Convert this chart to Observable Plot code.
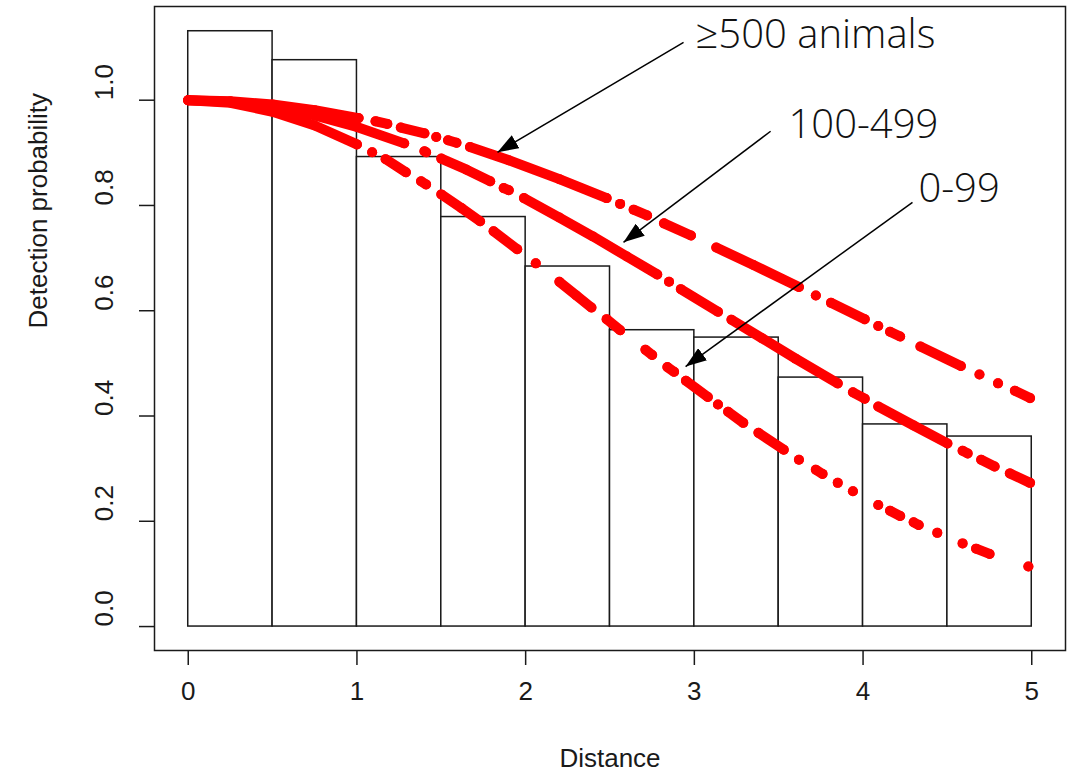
<!DOCTYPE html>
<html>
<head>
<meta charset="utf-8">
<script src="https://cdn.jsdelivr.net/npm/d3@7"></script>
<script src="https://cdn.jsdelivr.net/npm/@observablehq/plot@0.6"></script>
<style>
  html, body { margin: 0; padding: 0; background: #fff; }
  #chart svg { display: block; }
</style>
</head>
<body>
<div id="chart"></div>
<script>
// ---- Histogram of detection distances (bin start, scaled height) ----
const binStart = [0, 0.5, 1, 1.5, 2, 2.5, 3, 3.5, 4, 4.5];
const binWidth = 0.5;
const binHeight = [1.131, 1.076, 0.892, 0.778, 0.684, 0.563, 0.549, 0.473, 0.384, 0.361];

// ---- Fitted detection functions, drawn as dotted runs [distance, probability] ----
const runs_0_99 = [
  [[0, 1.000], [0.25, 0.995], [0.5, 0.978], [0.75, 0.952], [1.0, 0.916]],
  [[1.09, 0.901]],
  [[1.17, 0.888], [1.29, 0.863]],
  [[1.38, 0.846], [1.41, 0.840]],
  [[1.50, 0.821], [1.62, 0.795], [1.73, 0.770]],
  [[1.81, 0.751], [1.95, 0.717]],
  [[2.06, 0.690]],
  [[2.20, 0.655], [2.30, 0.629], [2.39, 0.606]],
  [[2.48, 0.584], [2.56, 0.563]],
  [[2.71, 0.526], [2.75, 0.516]],
  [[2.84, 0.493], [2.88, 0.484]],
  [[2.95, 0.467], [3.08, 0.436]],
  [[3.14, 0.422]],
  [[3.20, 0.408], [3.29, 0.387]],
  [[3.38, 0.368], [3.53, 0.336]],
  [[3.62, 0.317]],
  [[3.72, 0.298], [3.76, 0.290]],
  [[3.85, 0.273]],
  [[3.94, 0.257]],
  [[4.09, 0.231]],
  [[4.16, 0.220], [4.22, 0.210]],
  [[4.30, 0.198], [4.33, 0.193]],
  [[4.44, 0.178]],
  [[4.59, 0.158]],
  [[4.67, 0.148], [4.75, 0.138]],
  [[4.98, 0.114]]
];
const runs_100_499 = [
  [[0, 1.000], [0.25, 0.997], [0.5, 0.987], [0.75, 0.971], [1.0, 0.949], [1.28, 0.918]],
  [[1.40, 0.903], [1.41, 0.901]],
  [[1.50, 0.889], [1.65, 0.868], [1.79, 0.846]],
  [[1.87, 0.833], [1.90, 0.829]],
  [[1.99, 0.814], [2.2, 0.777], [2.4, 0.741], [2.6, 0.703], [2.78, 0.669]],
  [[2.85, 0.655]],
  [[2.92, 0.641], [3.14, 0.598]],
  [[3.22, 0.583], [3.4, 0.548], [3.6, 0.509], [3.85, 0.462]],
  [[3.94, 0.445], [4.01, 0.433]],
  [[4.09, 0.418], [4.3, 0.382], [4.50, 0.348]],
  [[4.59, 0.334], [4.62, 0.329]],
  [[4.70, 0.317], [4.78, 0.304]],
  [[4.87, 0.291], [4.99, 0.273]]
];
const runs_500 = [
  [[0, 1.000], [0.25, 0.998], [0.5, 0.992], [0.75, 0.981], [1.01, 0.966]],
  [[1.11, 0.960], [1.18, 0.955]],
  [[1.26, 0.948], [1.40, 0.937]],
  [[1.47, 0.930]],
  [[1.54, 0.924], [1.59, 0.919]],
  [[1.67, 0.911], [1.9, 0.886], [2.2, 0.850], [2.48, 0.814]],
  [[2.56, 0.803]],
  [[2.64, 0.792], [2.72, 0.781]],
  [[2.82, 0.766], [2.98, 0.743]],
  [[3.13, 0.720], [3.35, 0.687], [3.62, 0.645]],
  [[3.72, 0.629]],
  [[3.81, 0.615], [4.01, 0.584]],
  [[4.09, 0.571]],
  [[4.16, 0.560], [4.22, 0.551]],
  [[4.34, 0.532], [4.58, 0.495]],
  [[4.69, 0.479]],
  [[4.80, 0.462]],
  [[4.90, 0.448], [4.99, 0.434]]
];
const groupNames = ["0-99", "100-499", "≥500 animals"];

// ---- Axes ----
const xTicks = [0, 1, 2, 3, 4, 5];
const yTicks = [0, 0.2, 0.4, 0.6, 0.8, 1.0];
const xLabel = "Distance";
const yLabel = "Detection probability";

// ---- Annotations: label anchor and arrow (from label to curve) in data units ----
const annLabels = ["≥500 animals", "100-499", "0-99"];
const annTextX = [3.007, 3.558, 4.328];
const annTextY = [1.099, 0.928, 0.806];
const annFromX = [2.936, 3.452, 4.293];
const annFromY = [1.110, 0.941, 0.806];
const annToX = [1.833, 2.580, 2.948];
const annToY = [0.901, 0.730, 0.494];

// ---- Build tables ----
const bars = binStart.map((s, i) => ({x1: s, x2: s + binWidth, h: binHeight[i]}));
const rows = [];
[runs_0_99, runs_100_499, runs_500].forEach((runs, g) => {
  runs.forEach((run, r) => run.forEach(([x, y]) => rows.push({group: groupNames[g], run: g + "-" + r, x, y})));
});
const labels = annLabels.map((t, i) => ({t, x: annTextX[i], y: annTextY[i]}));
const arrows = annLabels.map((t, i) => ({x1: annFromX[i], y1: annFromY[i], x2: annToX[i], y2: annToY[i]}));

const ink = "#1a1a1a";
const red = "#ff0000";
const rFont = "'Liberation Sans', Arial, Helvetica, sans-serif";

const chart = Plot.plot({
  width: 1070,
  height: 780,
  marginLeft: 154,
  marginRight: 5,
  marginTop: 6,
  marginBottom: 130,
  style: {background: "#fff", fontFamily: rFont, fontSize: "26px", color: "#1a1a1a", overflow: "visible"},
  x: {domain: [-0.2, 5.2]},
  y: {domain: [-0.0455, 1.178]},
  marks: [
    Plot.rect(bars, {x1: "x1", x2: "x2", y1: 0, y2: "h", fill: "#fff", stroke: ink, strokeWidth: 1.5}),
    Plot.line(rows, {x: "x", y: "y", z: "run", stroke: red, strokeWidth: 10, strokeLinecap: "round", strokeLinejoin: "round"}),
    Plot.dot(rows, {x: "x", y: "y", r: 5, fill: red}),
    Plot.frame({stroke: ink, strokeWidth: 1.5}),
    Plot.axisX({ticks: xTicks, tickSize: 15, tickFormat: () => "", label: null, stroke: ink, strokeWidth: 1.5}),
    Plot.axisY({ticks: yTicks, tickSize: 15, tickFormat: () => "", label: null, stroke: ink, strokeWidth: 1.5}),
    Plot.text(xTicks, {x: d => d, frameAnchor: "bottom", dy: 49, text: d => String(d), fill: ink}),
    Plot.text(yTicks, {y: d => d, frameAnchor: "left", dx: -50, rotate: -90, text: d => d.toFixed(1), fill: ink}),
    Plot.text([xLabel], {frameAnchor: "bottom", dy: 116, text: d => d, fill: ink}),
    Plot.text([yLabel], {frameAnchor: "left", dx: -116, rotate: -90, text: d => d, fill: ink}),
    Plot.link(arrows, {x1: "x1", y1: "y1", x2: "x2", y2: "y2", stroke: "#000", strokeWidth: 1.5}),
    Plot.text(labels, {x: "x", y: "y", text: "t", textAnchor: "start", lineAnchor: "bottom",
      fontSize: 40, fontFamily: "'Open Sans', Lato, sans-serif", fontWeight: 300, fill: "#111"})
  ]
});

// filled arrowheads on the annotation links
const svg = d3.select(chart);
const defs = svg.insert("defs", ":first-child");
defs.append("marker")
  .attr("id", "ah")
  .attr("viewBox", "0 0 10 10")
  .attr("refX", 10).attr("refY", 5)
  .attr("markerUnits", "userSpaceOnUse")
  .attr("markerWidth", 21).attr("markerHeight", 15)
  .attr("preserveAspectRatio", "none")
  .attr("orient", "auto")
  .append("path").attr("d", "M0,0L10,5L0,10Z").attr("fill", "#000");
svg.selectAll('g[aria-label="link"] path').attr("marker-end", "url(#ah)");

document.getElementById("chart").appendChild(chart);
</script>
</body>
</html>
